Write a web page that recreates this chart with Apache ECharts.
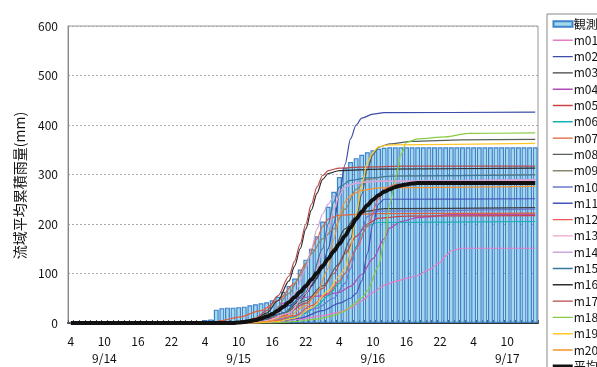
<!DOCTYPE html>
<html>
<head>
<meta charset="utf-8">
<script src="https://cdn.jsdelivr.net/npm/echarts@6/dist/echarts.min.js"></script>
<style>
  html, body { margin: 0; padding: 0; background: #fff; }
  #chart { width: 597px; height: 367px; }
</style>
</head>
<body>
<div id="chart"></div>
<script>
// hourly categories start at 9/14 4:00
const startDay = 14;
const startHour = 4;
const hourCount = 84;

// observed cumulative rainfall (mm), one bar per hour
const obsRain = [
  0, 0, 0, 0, 0, 0, 0, 0, 0, 0, 0, 0, 0, 0, 0, 0, 0, 0, 0, 0, 0, 0, 0,
  2, 6, 7, 27, 30, 31, 31, 32, 33, 36, 38, 40, 42, 46, 53, 63, 75, 90, 108, 128,
  150, 175, 205, 235, 265, 295, 313, 325, 333, 340, 345, 349, 352, 354,
  355, 355, 355, 355, 355, 355, 355, 355, 355, 355, 355, 355, 355, 355, 355, 355,
  355, 355, 355, 355, 355, 355, 355, 355, 355, 355, 355
];

// ensemble members, [hour index, mm]
const m01 = [[0,0],[33,0],[37,3],[41,8],[45,15],[48,22],[50,30],[52,45],[54,62],[56,76],[58,84],[60,90],[62,96],[64,108],[66,122],[67,135],[68,146],[70,151],[83,151]];
const m02 = [[0,0],[30,0],[33,5],[36,15],[39,35],[42,60],[44,90],[45,115],[46,150],[47,200],[48,260],[49,320],[50,372],[51,400],[52,414],[54,422],[56,425],[83,426]];
const m03 = [[0,0],[30,0],[34,5],[38,20],[41,45],[43,75],[45,110],[47,150],[49,190],[51,215],[53,226],[56,231],[83,233]];
const m04 = [[0,0],[30,0],[33,5],[36,20],[38,40],[40,50],[45,55],[48,62],[50,74],[52,98],[54,130],[56,170],[57,192],[59,205],[62,213],[68,219],[83,219]];
const m05 = [[0,0],[30,0],[34,4],[38,15],[42,40],[45,70],[47,100],[49,140],[51,175],[53,200],[55,212],[60,216],[83,217]];
const m06 = [[0,0],[31,0],[35,3],[39,10],[42,20],[44,35],[46,55],[48,80],[49,100],[50,125],[51,155],[52,180],[53,197],[55,203],[83,205]];
const m07 = [[0,0],[25,0],[27,5],[30,12],[34,25],[37,45],[40,80],[42,120],[44,170],[45,195],[46,210],[48,218],[55,221],[83,222]];
const m08 = [[0,0],[31,0],[34,5],[38,20],[42,45],[45,75],[48,120],[50,170],[51,210],[52,260],[53,310],[54,340],[55,355],[57,362],[61,367],[70,370],[83,371]];
const m09 = [[0,0],[30,0],[33,5],[36,20],[39,60],[41,95],[43,140],[45,170],[47,190],[49,230],[51,270],[53,290],[57,297],[83,300]];
const m10 = [[0,0],[32,0],[36,5],[40,15],[44,30],[47,50],[49,80],[50,110],[51,150],[52,190],[53,215],[55,226],[83,230]];
const m11 = [[0,0],[33,0],[37,3],[41,10],[45,25],[48,40],[50,50],[51,60],[52,85],[53,140],[54,200],[55,240],[56,250],[83,251]];
const m12 = [[0,0],[33,0],[37,5],[40,15],[43,35],[46,60],[48,85],[49,100],[51,150],[53,195],[55,250],[56,270],[58,280],[83,285]];
const m13 = [[0,0],[31,0],[35,5],[39,20],[42,60],[44,110],[45,150],[46,190],[47,230],[48,258],[49,275],[51,283],[55,286],[83,288]];
const m14 = [[0,0],[30,0],[34,5],[37,20],[40,60],[42,110],[43,150],[44,190],[45,220],[46,240],[47,255],[48,268],[50,280],[54,287],[83,290]];
const m15 = [[0,0],[30,0],[34,5],[38,20],[41,50],[43,90],[45,150],[46,200],[47,245],[48,275],[50,288],[53,293],[58,297],[83,299]];
const m16 = [[0,0],[29,0],[31,2],[33,8],[35,20],[37,45],[39,85],[40,115],[41,150],[42,190],[43,228],[44,262],[45,290],[46,302],[48,308],[55,311],[83,313]];
const m17 = [[0,0],[29,0],[31,3],[33,10],[35,25],[37,55],[39,95],[40,125],[41,160],[42,200],[43,240],[44,275],[45,298],[46,308],[48,313],[52,315],[60,317],[83,317]];
const m18 = [[0,0],[36,0],[40,3],[44,8],[47,15],[49,24],[50,34],[52,50],[53,65],[55,115],[56,165],[57,240],[58,290],[59,340],[60,365],[62,372],[67,376],[71,383],[83,384]];
const m19 = [[0,0],[33,0],[37,3],[40,10],[43,30],[46,65],[48,95],[49,110],[50,150],[51,220],[52,280],[53,325],[54,345],[55,356],[57,360],[83,363]];
const m20 = [[0,0],[31,0],[35,3],[39,15],[42,35],[44,60],[46,110],[47,170],[48,215],[49,245],[50,258],[52,268],[55,273],[83,276]];
const meanRain = [[0,0],[29,0],[30,1],[31,2],[32,4],[33,6],[34,9],[35,13],[36,18],[37,25],[38,33],[39,42],[40,52],[41,63],[42,75],[43,88],[44,101],[45,115],[46,130],[47,145],[48,160],[49,176],[50,193],[51,210],[52,225],[53,238],[54,249],[55,258],[56,265],[57,270],[58,275],[59,278],[60,280],[61,282],[62,283],[83,283]];

const memberNames = ['m01','m02','m03','m04','m05','m06','m07','m08','m09','m10',
                     'm11','m12','m13','m14','m15','m16','m17','m18','m19','m20'];
const memberData = [m01,m02,m03,m04,m05,m06,m07,m08,m09,m10,m11,m12,m13,m14,m15,m16,m17,m18,m19,m20];
const memberColors = ['#e87cc4','#3c4ca8','#404040','#b04cb4','#c84444','#18b0b0','#e0603a','#56605a',
                      '#8a8670','#6a7ad0','#4454b8','#f25656','#f4a2cc','#c8a8da','#3a78a0','#2e2e2e',
                      '#b84a4a','#88cc44','#ffc62a','#f8922e'];

const font = 'Noto Sans CJK JP';

// legend icons: thin strokes inside an 8px tall box
const thinIcon = 'path://M0,0L0,0ZM0,3.3H20V4.7H0ZM0,8L0,8Z';
const thickIcon = 'path://M0,0L0,0ZM0,2.2H20V5.8H0ZM0,8L0,8Z';
const barIcon = 'path://M0,0L0,0ZM0.5,1.2H19.5V6.8H0.5ZM0,8L0,8Z';

const categories = [];
for (let i = 0; i < hourCount; i++) {
  const h = startHour + i;
  categories.push('9/' + (startDay + Math.floor(h / 24)) + ' ' + (h % 24));
}

const series = [{
  name: '観測',
  type: 'bar',
  data: obsRain,
  barCategoryGap: '12%',
  itemStyle: { color: '#a2d9ec', borderColor: '#3f82cc', borderWidth: 1.2 },
  z: 1
}];
memberNames.forEach((n, k) => {
  series.push({
    name: n,
    type: 'line',
    data: memberData[k],
    symbol: 'none',
    smooth: 0.3,
    smoothMonotone: 'x',
    lineStyle: { width: 1.2, color: memberColors[k] },
    itemStyle: { color: memberColors[k] },
    z: 3
  });
});
series.push({
  name: '平均',
  type: 'line',
  data: meanRain,
  symbol: 'none',
  smooth: 0.3,
  smoothMonotone: 'x',
  lineStyle: { width: 4, color: '#111' },
  itemStyle: { color: '#111' },
  z: 5
});

const legendData = [{ name: '観測', icon: barIcon }]
  .concat(memberNames.map(n => ({ name: n, icon: thinIcon })))
  .concat([{ name: '平均', icon: thickIcon }]);

const chart = echarts.init(document.getElementById('chart'));
chart.setOption({
  animation: false,
  textStyle: { fontFamily: font },
  grid: {
    left: 68, right: 59, top: 26, bottom: 40,
    show: true, borderColor: '#999', borderWidth: 1
  },
  legend: {
    orient: 'vertical',
    left: 547, top: 14,
    height: 420,
    padding: [3, 4, 3, 5],
    itemWidth: 20, itemHeight: 8,
    itemGap: 2.3,
    borderColor: '#888', borderWidth: 1,
    backgroundColor: '#fff',
    textStyle: { fontSize: 12, color: '#111', lineHeight: 14, fontFamily: font, padding: [0, 0, 0, -4] },
    data: legendData
  },
  xAxis: {
    type: 'category',
    data: categories,
    boundaryGap: true,
    axisLine: { lineStyle: { color: '#333', width: 2 } },
    axisTick: { show: true, inside: true, length: 3, interval: 0, lineStyle: { color: '#555' } },
    axisLabel: {
      interval: 5,
      margin: 10,
      fontSize: 12,
      color: '#111',
      lineHeight: 17,
      formatter: function (v) {
        const parts = v.split(' ');
        return parts[1] === '10' ? parts[1] + '\n' + parts[0] : parts[1];
      }
    },
    splitLine: { show: false }
  },
  yAxis: {
    type: 'value',
    min: 0, max: 600, interval: 100,
    name: '流域平均累積雨量(mm)',
    nameLocation: 'middle',
    nameGap: 40,
    nameRotate: 90,
    nameTextStyle: { fontSize: 14, color: '#111', fontFamily: font, padding: [0, 0, 0, -22] },
    axisLine: { show: true, lineStyle: { color: '#888' } },
    axisTick: { show: false },
    axisLabel: { fontSize: 12, color: '#111', margin: 10 },
    splitLine: { lineStyle: { color: '#aaa', type: [2, 2] } }
  },
  series: series
});
</script>
</body>
</html>
